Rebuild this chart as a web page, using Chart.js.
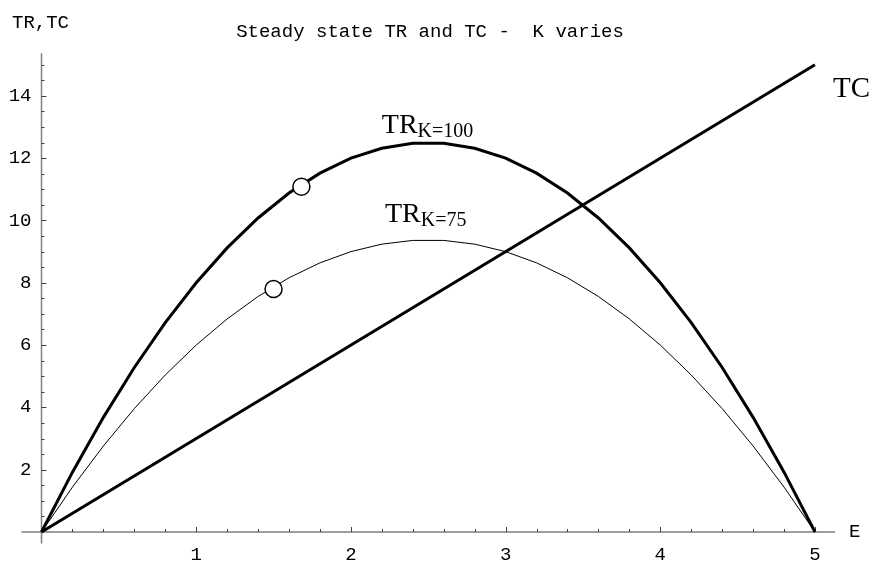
<!DOCTYPE html>
<html>
<head>
<meta charset="utf-8">
<script src="https://cdn.jsdelivr.net/npm/chart.js@4/dist/chart.umd.min.js"></script>
<style>
  html, body { margin: 0; padding: 0; background: #ffffff; }
  #wrap { width: 873px; height: 563px; }
</style>
</head>
<body>
<div id="wrap"><canvas id="chart" width="873" height="563"></canvas></div>
<script>
// Effort levels E sampled along the revenue curves
const effort = [0, 0.2, 0.4, 0.6, 0.8, 1.0, 1.2, 1.4, 1.6, 1.8, 2.0, 2.2, 2.4,
                2.6, 2.8, 3.0, 3.2, 3.4, 3.6, 3.8, 4.0, 4.2, 4.4, 4.6, 4.8, 5.0];
// Steady state total revenue, carrying capacity K = 100
const trK100 = [0, 1.92, 3.68, 5.28, 6.72, 8.0, 9.12, 10.08, 10.88, 11.52, 12.0, 12.32, 12.48,
                12.48, 12.32, 12.0, 11.52, 10.88, 10.08, 9.12, 8.0, 6.72, 5.28, 3.68, 1.92, 0];
// Steady state total revenue, carrying capacity K = 75
const trK75 = [0, 1.44, 2.76, 3.96, 5.04, 6.0, 6.84, 7.56, 8.16, 8.64, 9.0, 9.24, 9.36,
               9.36, 9.24, 9.0, 8.64, 8.16, 7.56, 6.84, 6.0, 5.04, 3.96, 2.76, 1.44, 0];
// Total cost line
const tcEffort = [0, 5];
const tcValues = [0, 15];
// Highlighted points on each revenue curve
const markerEffort = [1.68, 1.5];
const markerValues = [11.08, 7.8];
// Axis tick labels
const xTickLabels = [1, 2, 3, 4, 5];
const yTickLabels = [2, 4, 6, 8, 10, 12, 14];

const toPoints = (xs, ys) => xs.map((x, i) => ({ x: x, y: ys[i] }));

const MONO = '"Liberation Mono", "Courier New", monospace';
const SERIF = '"Liberation Serif", "Times New Roman", serif';

// Draws the axes through the origin, Mathematica style ticks and labels
const axesPlugin = {
  id: 'originAxes',
  beforeDatasetsDraw(chart) {
    const ctx = chart.ctx;
    const xs = chart.scales.x, ys = chart.scales.y;
    const area = chart.chartArea;
    const x0 = xs.getPixelForValue(0);
    const y0 = ys.getPixelForValue(0);
    ctx.save();
    ctx.strokeStyle = '#808080';
    ctx.lineWidth = 1.5;
    ctx.beginPath();
    ctx.moveTo(area.left, y0); ctx.lineTo(area.right, y0);
    ctx.moveTo(x0, area.top); ctx.lineTo(x0, area.bottom);
    ctx.stroke();

    ctx.strokeStyle = '#404040';
    ctx.lineWidth = 1;
    ctx.beginPath();
    // x ticks every 0.2, longer at integers
    for (let i = 1; i <= 25; i++) {
      const v = i * 0.2;
      const px = Math.round(xs.getPixelForValue(v)) + 0.5;
      const len = (i % 5 === 0) ? 5 : 3;
      ctx.moveTo(px, y0); ctx.lineTo(px, y0 - len);
    }
    // y ticks every 0.5, longer at even numbers
    for (let i = 1; i <= 30; i++) {
      const v = i * 0.5;
      const py = Math.round(ys.getPixelForValue(v)) + 0.5;
      const len = (i % 4 === 0) ? 5 : 3;
      ctx.moveTo(x0, py); ctx.lineTo(x0 + len, py);
    }
    ctx.stroke();

    ctx.fillStyle = '#000000';
    ctx.font = '19px ' + MONO;
    ctx.textBaseline = 'middle';
    ctx.textAlign = 'center';
    xTickLabels.forEach(v => ctx.fillText(String(v), xs.getPixelForValue(v), y0 + 23));
    ctx.textAlign = 'right';
    yTickLabels.forEach(v => ctx.fillText(String(v), x0 - 10, ys.getPixelForValue(v)));

    // axis names
    ctx.textAlign = 'left';
    ctx.fillText('E', area.right + 14, y0);
    ctx.fillText('TR,TC', 12, 23);
    // title
    ctx.textAlign = 'center';
    ctx.fillText('Steady state TR and TC -  K varies', 430, 32);
    ctx.restore();
  },
  afterDatasetsDraw(chart) {
    const ctx = chart.ctx;
    const xs = chart.scales.x, ys = chart.scales.y;
    ctx.save();
    ctx.fillStyle = '#000000';
    ctx.textBaseline = 'alphabetic';
    ctx.textAlign = 'left';
    const curveLabel = (ex, val, sub) => {
      const px = xs.getPixelForValue(ex), py = ys.getPixelForValue(val);
      ctx.font = '28px ' + SERIF;
      ctx.fillText('TR', px, py);
      const w = ctx.measureText('TR').width;
      ctx.font = '20px ' + SERIF;
      ctx.fillText(sub, px + w, py + 4);
    };
    curveLabel(2.2, 12.81, 'K=100');
    curveLabel(2.22, 9.95, 'K=75');
    ctx.font = '29px ' + SERIF;
    ctx.fillText('TC', xs.getPixelForValue(5.117), ys.getPixelForValue(13.96));
    ctx.restore();
  }
};

new Chart(document.getElementById('chart'), {
  type: 'scatter',
  data: {
    datasets: [
      {
        label: 'Markers',
        data: toPoints(markerEffort, markerValues),
        showLine: false,
        pointStyle: 'circle',
        pointRadius: 8.5,
        pointBackgroundColor: '#ffffff',
        pointBorderColor: '#000000',
        pointBorderWidth: 1.5,
        order: 0
      },
      {
        label: 'TR K=100',
        data: toPoints(effort, trK100),
        showLine: true,
        borderColor: '#000000',
        borderWidth: 3,
        pointRadius: 0,
        tension: 0,
        order: 1
      },
      {
        label: 'TR K=75',
        data: toPoints(effort, trK75),
        showLine: true,
        borderColor: '#000000',
        borderWidth: 1,
        pointRadius: 0,
        tension: 0,
        order: 2
      },
      {
        label: 'TC',
        data: toPoints(tcEffort, tcValues),
        showLine: true,
        borderColor: '#000000',
        borderWidth: 3,
        pointRadius: 0,
        order: 3
      }
    ]
  },
  options: {
    responsive: false,
    animation: false,
    layout: { padding: { left: 21.4, right: 37.9, top: 53.2, bottom: 19.5 } },
    plugins: { legend: { display: false }, tooltip: { enabled: false } },
    scales: {
      x: { type: 'linear', min: -0.13, max: 5.13, display: false },
      y: { type: 'linear', min: -0.37, max: 15.37, display: false }
    }
  },
  plugins: [axesPlugin]
});
</script>
</body>
</html>
